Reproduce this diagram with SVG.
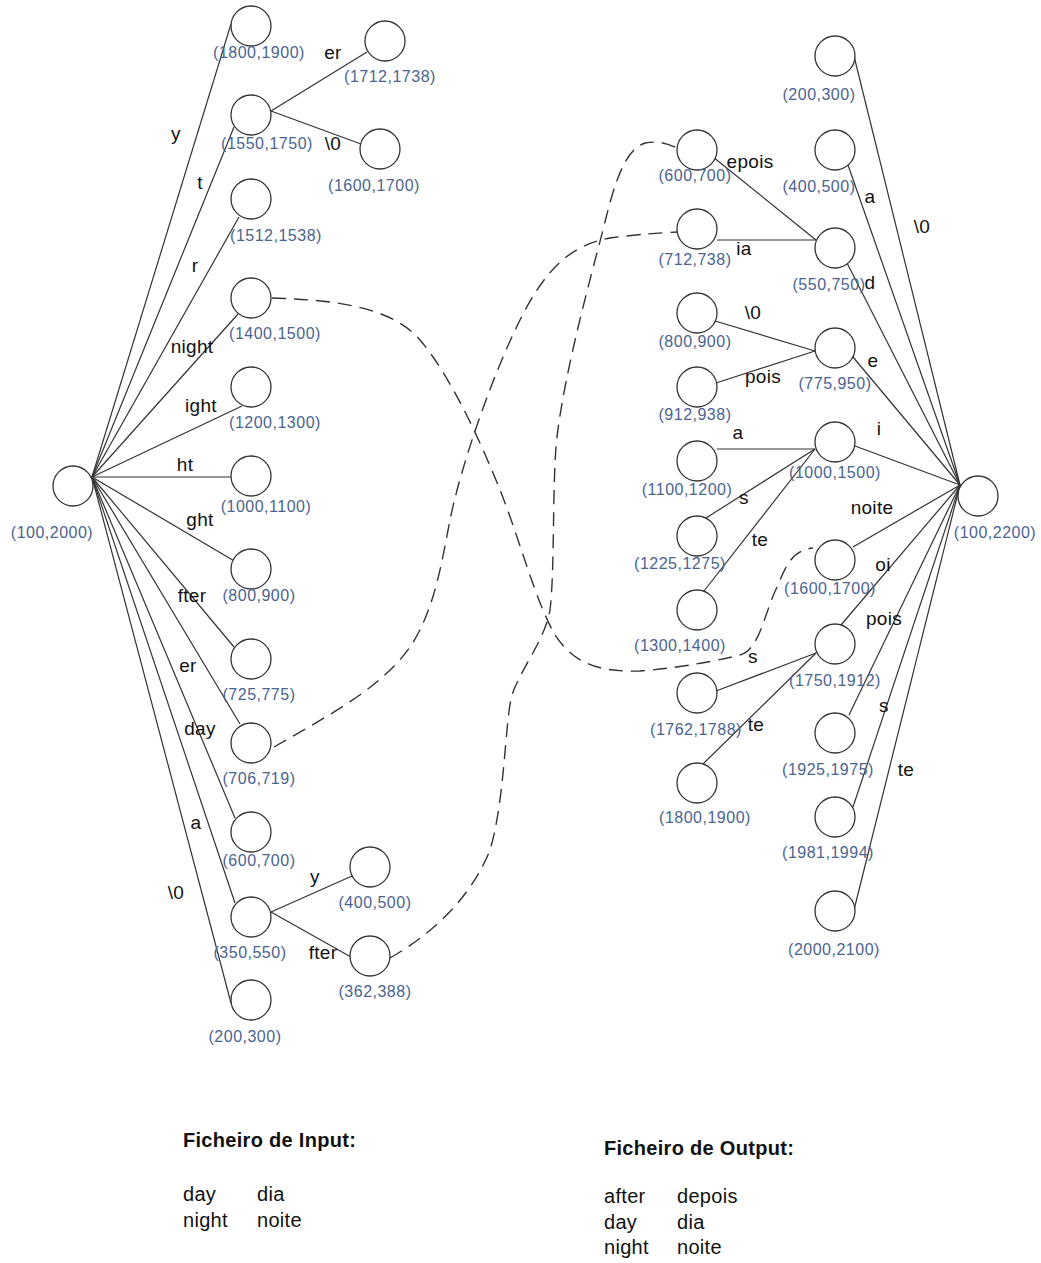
<svg xmlns="http://www.w3.org/2000/svg" width="1041" height="1263" viewBox="0 0 1041 1263">
  <style>
    .node { fill: #ffffff; stroke: #333333; stroke-width: 1.3; }
    .edge { stroke: #333333; stroke-width: 1.2; fill: none; }
    .link { stroke: #333333; stroke-width: 1.4; fill: none; stroke-dasharray: 14 8; }
    .coord { font-family: "Liberation Sans", Arial, sans-serif; font-size: 16px; letter-spacing: 0.5px; fill: #4a6490; text-anchor: middle; }
    .lbl { font-family: "Liberation Sans", Arial, sans-serif; font-size: 19px; letter-spacing: 0.3px; fill: #111111; text-anchor: middle; }
    .head { font-family: "Liberation Sans", Arial, sans-serif; font-size: 20px; font-weight: bold; letter-spacing: 0.3px; fill: #111111; }
    .txt { font-family: "Liberation Sans", Arial, sans-serif; font-size: 20px; letter-spacing: 0.3px; fill: #111111; }
  </style>
  <rect width="1041" height="1263" fill="#ffffff"/>

  <!-- connectors -->
  <g id="connectors">
    <!-- input trie: root fan-out -->
    <line class="edge" x1="92" y1="477" x2="231" y2="24"/>
    <line class="edge" x1="92" y1="477" x2="234" y2="127"/>
    <line class="edge" x1="92" y1="477" x2="239" y2="217"/>
    <line class="edge" x1="92" y1="477" x2="238" y2="314"/>
    <line class="edge" x1="92" y1="477" x2="242" y2="406"/>
    <line class="edge" x1="92" y1="477" x2="231" y2="477"/>
    <line class="edge" x1="92" y1="477" x2="236" y2="562"/>
    <line class="edge" x1="92" y1="477" x2="234" y2="647"/>
    <line class="edge" x1="92" y1="477" x2="240" y2="724"/>
    <line class="edge" x1="92" y1="477" x2="235" y2="818"/>
    <line class="edge" x1="92" y1="477" x2="235" y2="903"/>
    <line class="edge" x1="92" y1="477" x2="231" y2="1003"/>
    <!-- input trie: second level -->
    <line class="edge" x1="271" y1="111" x2="367" y2="52"/>
    <line class="edge" x1="271" y1="111" x2="361" y2="144"/>
    <line class="edge" x1="271" y1="912" x2="352" y2="876"/>
    <line class="edge" x1="271" y1="912" x2="351" y2="957"/>

    <!-- output trie: root fan-in -->
    <line class="edge" x1="960" y1="485" x2="853" y2="52"/>
    <line class="edge" x1="960" y1="485" x2="848" y2="165"/>
    <line class="edge" x1="960" y1="485" x2="847" y2="263"/>
    <line class="edge" x1="960" y1="485" x2="853" y2="357"/>
    <line class="edge" x1="960" y1="485" x2="855" y2="446"/>
    <line class="edge" x1="960" y1="485" x2="853" y2="547"/>
    <line class="edge" x1="960" y1="485" x2="841" y2="625"/>
    <line class="edge" x1="960" y1="485" x2="849" y2="715"/>
    <line class="edge" x1="960" y1="485" x2="853" y2="807"/>
    <line class="edge" x1="960" y1="485" x2="854" y2="910"/>
    <!-- output trie: second level -->
    <line class="edge" x1="713" y1="157" x2="816" y2="240"/>
    <line class="edge" x1="717" y1="240" x2="816" y2="240"/>
    <line class="edge" x1="715" y1="321" x2="815" y2="351"/>
    <line class="edge" x1="716" y1="383" x2="815" y2="351"/>
    <line class="edge" x1="717" y1="449" x2="815" y2="449"/>
    <line class="edge" x1="706" y1="518" x2="815" y2="449"/>
    <line class="edge" x1="704" y1="591" x2="815" y2="449"/>
    <line class="edge" x1="716" y1="691" x2="816" y2="653"/>
    <line class="edge" x1="703" y1="764" x2="816" y2="653"/>

    <!-- translation links between the two tries -->
    <path class="link" d="M272,298 C330,300 390,305 420,340 C450,375 480,440 500,490 C520,540 535,600 555,635 C575,665 600,672 640,671 C680,668 720,660 740,655 C760,650 765,610 778,585 C788,560 795,550 813,548"/>
    <path class="link" d="M274,747 C320,720 380,690 410,647 C435,610 442,560 450,520 C460,470 490,380 520,320 C545,270 570,245 610,238 C640,234 660,233 677,232"/>
    <path class="link" d="M390,958 C430,935 470,900 490,850 C505,800 505,720 512,695 C520,670 545,640 550,610 C555,570 552,480 557,437 C565,370 590,280 603,230 C615,180 625,150 645,143 C660,140 670,145 677,148"/>
  </g>

  <!-- edge labels -->
  <g id="edge-labels">
    <text class="lbl" x="176" y="140">y</text>
    <text class="lbl" x="200" y="189">t</text>
    <text class="lbl" x="195" y="272">r</text>
    <text class="lbl" x="192" y="353">night</text>
    <text class="lbl" x="201" y="412">ight</text>
    <text class="lbl" x="185" y="471">ht</text>
    <text class="lbl" x="200" y="526">ght</text>
    <text class="lbl" x="192" y="602">fter</text>
    <text class="lbl" x="188" y="672">er</text>
    <text class="lbl" x="200" y="735">day</text>
    <text class="lbl" x="196" y="829">a</text>
    <text class="lbl" x="176" y="899">\0</text>
    <text class="lbl" x="333" y="59">er</text>
    <text class="lbl" x="333" y="150">\0</text>
    <text class="lbl" x="315" y="883">y</text>
    <text class="lbl" x="323" y="959">fter</text>

    <text class="lbl" x="750" y="168">epois</text>
    <text class="lbl" x="744" y="255">ia</text>
    <text class="lbl" x="753" y="319">\0</text>
    <text class="lbl" x="763" y="383">pois</text>
    <text class="lbl" x="738" y="439">a</text>
    <text class="lbl" x="744" y="504">s</text>
    <text class="lbl" x="760" y="546">te</text>
    <text class="lbl" x="753" y="663">s</text>
    <text class="lbl" x="756" y="731">te</text>
    <text class="lbl" x="922" y="233">\0</text>
    <text class="lbl" x="870" y="203">a</text>
    <text class="lbl" x="870" y="289">d</text>
    <text class="lbl" x="873" y="367">e</text>
    <text class="lbl" x="879" y="435">i</text>
    <text class="lbl" x="872" y="514">noite</text>
    <text class="lbl" x="883" y="571">oi</text>
    <text class="lbl" x="884" y="625">pois</text>
    <text class="lbl" x="884" y="712">s</text>
    <text class="lbl" x="906" y="776">te</text>
  </g>

  <!-- input trie nodes -->
  <g id="in-root"><circle class="node" cx="73" cy="486" r="20"/><text class="coord" x="52" y="538">(100,2000)</text></g>
  <g id="in-1800-1900"><circle class="node" cx="251" cy="26" r="20"/><text class="coord" x="259" y="58">(1800,1900)</text></g>
  <g id="in-1550-1750"><circle class="node" cx="251" cy="115" r="20"/><text class="coord" x="267" y="149">(1550,1750)</text></g>
  <g id="in-1712-1738"><circle class="node" cx="385" cy="41" r="20"/><text class="coord" x="390" y="82">(1712,1738)</text></g>
  <g id="in-1600-1700"><circle class="node" cx="380" cy="149" r="20"/><text class="coord" x="374" y="191">(1600,1700)</text></g>
  <g id="in-1512-1538"><circle class="node" cx="251" cy="199" r="20"/><text class="coord" x="276" y="241">(1512,1538)</text></g>
  <g id="in-1400-1500"><circle class="node" cx="251" cy="298" r="20"/><text class="coord" x="275" y="339">(1400,1500)</text></g>
  <g id="in-1200-1300"><circle class="node" cx="251" cy="387" r="20"/><text class="coord" x="275" y="428">(1200,1300)</text></g>
  <g id="in-1000-1100"><circle class="node" cx="251" cy="476" r="20"/><text class="coord" x="266" y="512">(1000,1100)</text></g>
  <g id="in-800-900"><circle class="node" cx="251" cy="569" r="20"/><text class="coord" x="259" y="601">(800,900)</text></g>
  <g id="in-725-775"><circle class="node" cx="251" cy="659" r="20"/><text class="coord" x="259" y="700">(725,775)</text></g>
  <g id="in-706-719"><circle class="node" cx="251" cy="743" r="20"/><text class="coord" x="259" y="784">(706,719)</text></g>
  <g id="in-600-700"><circle class="node" cx="251" cy="832" r="20"/><text class="coord" x="259" y="866">(600,700)</text></g>
  <g id="in-350-550"><circle class="node" cx="251" cy="917" r="20"/><text class="coord" x="250" y="958">(350,550)</text></g>
  <g id="in-400-500"><circle class="node" cx="370" cy="867" r="20"/><text class="coord" x="375" y="908">(400,500)</text></g>
  <g id="in-362-388"><circle class="node" cx="370" cy="956" r="20"/><text class="coord" x="375" y="997">(362,388)</text></g>
  <g id="in-200-300"><circle class="node" cx="251" cy="1000" r="20"/><text class="coord" x="245" y="1042">(200,300)</text></g>

  <!-- output trie nodes -->
  <g id="out-root"><circle class="node" cx="978" cy="496" r="20"/><text class="coord" x="995" y="538">(100,2200)</text></g>
  <g id="out-200-300"><circle class="node" cx="835" cy="56" r="20"/><text class="coord" x="819" y="100">(200,300)</text></g>
  <g id="out-400-500"><circle class="node" cx="835" cy="150" r="20"/><text class="coord" x="819" y="192">(400,500)</text></g>
  <g id="out-550-750"><circle class="node" cx="835" cy="248" r="20"/><text class="coord" x="829" y="290">(550,750)</text></g>
  <g id="out-775-950"><circle class="node" cx="835" cy="348" r="20"/><text class="coord" x="835" y="389">(775,950)</text></g>
  <g id="out-1000-1500"><circle class="node" cx="835" cy="442" r="20"/><text class="coord" x="835" y="478">(1000,1500)</text></g>
  <g id="out-1600-1700"><circle class="node" cx="835" cy="560" r="20"/><text class="coord" x="830" y="594">(1600,1700)</text></g>
  <g id="out-1750-1912"><circle class="node" cx="835" cy="644" r="20"/><text class="coord" x="835" y="686">(1750,1912)</text></g>
  <g id="out-1925-1975"><circle class="node" cx="835" cy="733" r="20"/><text class="coord" x="828" y="775">(1925,1975)</text></g>
  <g id="out-1981-1994"><circle class="node" cx="835" cy="817" r="20"/><text class="coord" x="828" y="858">(1981,1994)</text></g>
  <g id="out-2000-2100"><circle class="node" cx="835" cy="911" r="20"/><text class="coord" x="834" y="955">(2000,2100)</text></g>
  <g id="out-600-700"><circle class="node" cx="697" cy="150" r="20"/><text class="coord" x="695" y="181">(600,700)</text></g>
  <g id="out-712-738"><circle class="node" cx="697" cy="229" r="20"/><text class="coord" x="695" y="265">(712,738)</text></g>
  <g id="out-800-900"><circle class="node" cx="697" cy="313" r="20"/><text class="coord" x="695" y="347">(800,900)</text></g>
  <g id="out-912-938"><circle class="node" cx="697" cy="387" r="20"/><text class="coord" x="695" y="420">(912,938)</text></g>
  <g id="out-1100-1200"><circle class="node" cx="697" cy="461" r="20"/><text class="coord" x="687" y="495">(1100,1200)</text></g>
  <g id="out-1225-1275"><circle class="node" cx="697" cy="536" r="20"/><text class="coord" x="680" y="569">(1225,1275)</text></g>
  <g id="out-1300-1400"><circle class="node" cx="697" cy="610" r="20"/><text class="coord" x="680" y="651">(1300,1400)</text></g>
  <g id="out-1762-1788"><circle class="node" cx="697" cy="693" r="20"/><text class="coord" x="696" y="735">(1762,1788)</text></g>
  <g id="out-1800-1900"><circle class="node" cx="697" cy="783" r="20"/><text class="coord" x="705" y="823">(1800,1900)</text></g>

  <!-- file listings -->
  <g id="input-file">
    <text class="head" x="183" y="1147">Ficheiro de Input:</text>
    <text class="txt" x="183" y="1201">day</text><text class="txt" x="257" y="1201">dia</text>
    <text class="txt" x="183" y="1227">night</text><text class="txt" x="257" y="1227">noite</text>
  </g>
  <g id="output-file">
    <text class="head" x="604" y="1155">Ficheiro de Output:</text>
    <text class="txt" x="604" y="1203">after</text><text class="txt" x="677" y="1203">depois</text>
    <text class="txt" x="604" y="1229">day</text><text class="txt" x="677" y="1229">dia</text>
    <text class="txt" x="604" y="1254">night</text><text class="txt" x="677" y="1254">noite</text>
  </g>
</svg>
